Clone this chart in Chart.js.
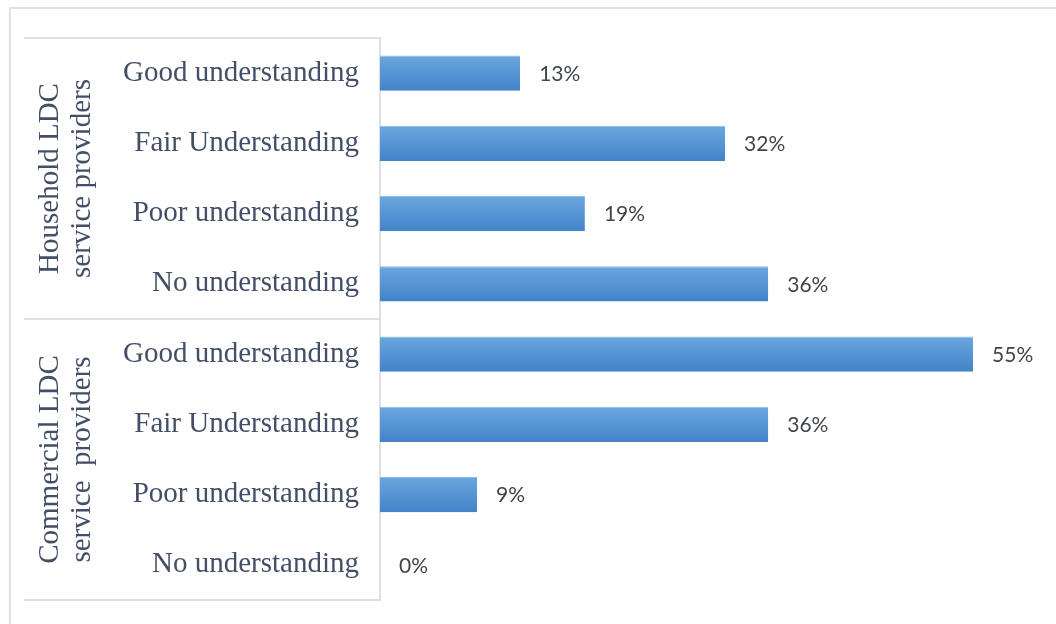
<!DOCTYPE html>
<html>
<head>
<meta charset="utf-8">
<script src="https://cdn.jsdelivr.net/npm/chart.js@4/dist/chart.umd.min.js"></script>
<style>
  html, body { margin: 0; padding: 0; background: #ffffff; overflow: hidden; }
  #wrap { position: relative; width: 1056px; height: 624px; }
</style>
</head>
<body>
<div id="wrap"><canvas id="chart" width="1056" height="624"></canvas></div>
<script>
// Understanding levels, listed top to bottom within each provider group
const categories = [
  'Good understanding', 'Fair Understanding', 'Poor understanding', 'No understanding',
  'Good understanding', 'Fair Understanding', 'Poor understanding', 'No understanding'
];
// Share of respondents (%)
const shares = [13, 32, 19, 36, 55, 36, 9, 0];
// Provider groups: caption lines and how many categories each spans
const groupLines = [
  ['Household LDC', 'service providers'],
  ['Commercial LDC', 'service  providers']
];
const groupSizes = [4, 4];

const TEXT_BLUE = '#434f66';
const RULE = '#dcdfe5';

function barGradient(ctx) {
  const chart = ctx.chart;
  const y = chart.scales.y;
  const area = chart.chartArea;
  if (!y || !area) return '#5594d6';
  const cat = (area.bottom - area.top) / categories.length;
  const mid = y.getPixelForValue(ctx.dataIndex);
  const top = mid - cat * 0.25, bottom = mid + cat * 0.25;
  const g = chart.ctx.createLinearGradient(0, top, 0, bottom);
  g.addColorStop(0, '#6ba6de');
  g.addColorStop(1, '#4283c9');
  return g;
}

// Frame, group dividers and rotated group captions left of the category labels
const groupPlugin = {
  id: 'groups',
  beforeDraw(chart) {
    const c = chart.ctx;
    c.save();
    c.strokeStyle = '#dfe2e8';
    c.lineWidth = 2;
    c.beginPath();
    c.moveTo(10, 624); c.lineTo(10, 8); c.lineTo(1056, 8);
    c.stroke();
    c.restore();
  },
  afterDraw(chart) {
    const c = chart.ctx;
    const y = chart.scales.y;
    const area = chart.chartArea;
    const cat = (area.bottom - area.top) / categories.length;
    c.save();
    c.strokeStyle = RULE;
    c.lineWidth = 2;
    let idx = 0;
    const bounds = [area.top];
    groupSizes.forEach(n => { idx += n; bounds.push(y.getPixelForValue(idx - 1) + cat / 2); });
    bounds.forEach(b => {
      c.beginPath(); c.moveTo(24, b); c.lineTo(area.left, b); c.stroke();
    });
    c.fillStyle = TEXT_BLUE;
    c.font = '29px "Liberation Serif", "Times New Roman", serif';
    c.textAlign = 'center';
    c.textBaseline = 'middle';
    groupLines.forEach((lines, gi) => {
      const cy = (bounds[gi] + bounds[gi + 1]) / 2;
      const cx = 66;
      const lh = 32;
      c.save();
      c.translate(cx, cy);
      c.rotate(-Math.PI / 2);
      lines.forEach((t, li) => {
        c.fillText(t, 0, (li - (lines.length - 1) / 2) * lh);
      });
      c.restore();
    });
    c.restore();
  },
  afterDatasetsDraw(chart) {
    const c = chart.ctx;
    const meta = chart.getDatasetMeta(0);
    c.save();
    c.fillStyle = '#40454c';
    c.font = '21px Lato, "Open Sans", sans-serif';
    c.textAlign = 'left';
    c.textBaseline = 'middle';
    meta.data.forEach((el, i) => {
      c.fillText(shares[i] + '%', el.x + 19, el.y + 1);
    });
    c.restore();
  }
};

new Chart(document.getElementById('chart'), {
  type: 'bar',
  data: {
    labels: categories,
    datasets: [{
      data: shares,
      backgroundColor: barGradient,
      borderColor: '#8cbbe6',
      borderWidth: { top: 1, right: 0, bottom: 0, left: 0 },
      borderSkipped: false,
      categoryPercentage: 1,
      barPercentage: 0.5
    }]
  },
  options: {
    indexAxis: 'y',
    responsive: false,
    animation: false,
    layout: { padding: { top: 38, bottom: 24, left: 0, right: 29 } },
    plugins: { legend: { display: false }, tooltip: { enabled: false } },
    scales: {
      x: { display: false, min: 0, max: 60 },
      y: {
        afterFit(scale) {
          scale.width = 380;
          scale.paddingTop = 0;
          scale.paddingBottom = 0;
        },
        grid: { display: false, drawTicks: false },
        border: { display: true, color: RULE, width: 2 },
        ticks: {
          padding: 21,
          color: TEXT_BLUE,
          font: { family: '"Liberation Serif", "Times New Roman", serif', size: 29 }
        }
      }
    }
  },
  plugins: [groupPlugin]
});
</script>
</body>
</html>
